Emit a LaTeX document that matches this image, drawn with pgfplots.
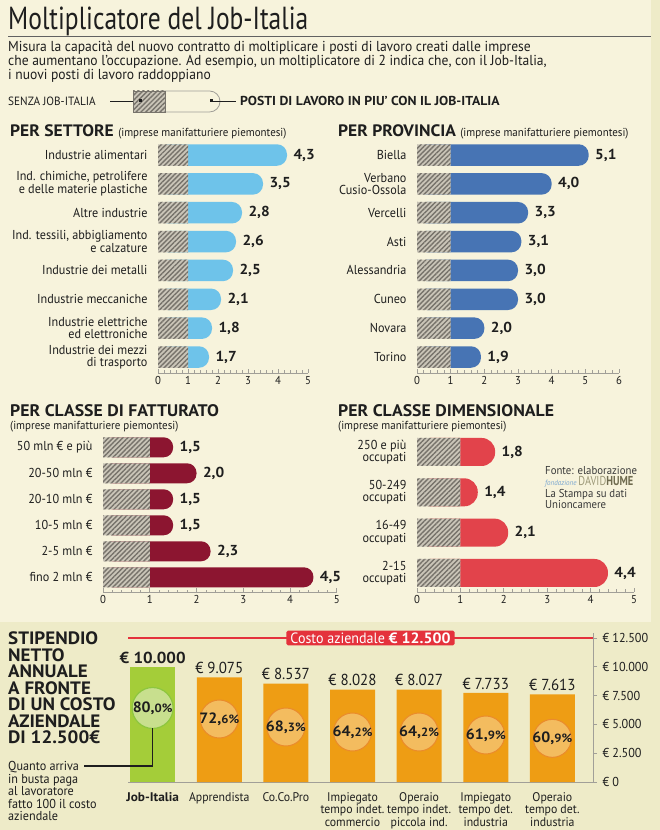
\documentclass[border=0pt]{standalone}
\usepackage{fontspec}
\setmainfont{PT Sans}[FakeStretch=0.94]
\newfontfamily\titlefont{PT Sans}[FakeStretch=0.8]
\newfontfamily\headfont{PT Sans}[FakeStretch=1.06]
\usepackage{pgfplots}
\pgfplotsset{compat=1.18}
\usetikzlibrary{patterns.meta}

\definecolor{bgtop}{HTML}{F7F3DC}
\definecolor{bgbot}{HTML}{EEEBC8}
\definecolor{txt}{HTML}{1E1E1E}
\definecolor{axisgrey}{HTML}{A19F98}
\definecolor{hatchbg}{HTML}{CAC5B8}
\definecolor{hatchline}{HTML}{77736B}
\definecolor{lightblue}{HTML}{6EC3EA}
\definecolor{midblue}{HTML}{4774B4}
\definecolor{darkred}{HTML}{8C1530}
\definecolor{brightred}{HTML}{E2434B}
\definecolor{greenbar}{HTML}{A4CD39}
\definecolor{greencirc}{HTML}{C8DF8E}
\definecolor{greenstroke}{HTML}{8DC63F}
\definecolor{orangebar}{HTML}{EE9D14}
\definecolor{orangecirc}{HTML}{F3BC5F}
\definecolor{orangestroke}{HTML}{EA8B2C}
\definecolor{costred}{HTML}{E4323C}
\definecolor{srcgrey}{HTML}{3A3A3A}
\definecolor{humeblue}{HTML}{7BA7D0}
\definecolor{humegrey}{HTML}{9C9878}
\definecolor{humedark}{HTML}{6F6B4F}

\newcommand\fs[2]{\fontsize{#1}{#2}\selectfont}
\newcommand\pct[2]{{\headfont\bfseries\fs{15}{15}#1,\fs{12}{12}#2\%}}

\tikzset{hatch/.style={fill=hatchbg,
  postaction={pattern={Lines[angle=45,distance=3.4bp,line width=1.4bp]}, pattern color=hatchline}}}

\pgfplotsset{
  hbar/.style={scale only axis, anchor=south west, xbar, bar shift=0pt, clip=false,
    /pgf/number format/assume math mode=true,
    axis x line=bottom, axis y line=left,
    x axis line style={-, draw=axisgrey, line width=0.9bp},
    y axis line style={draw=none},
    xtick distance=1, minor x tick num=4, tick align=inside,
    xtick style={draw=axisgrey, line width=0.7bp},
    major tick length=4bp, minor tick length=2.5bp,
    ytick style={draw=none},
    xticklabel style={font=\fs{11.5}{11.5}, text=txt},
    yticklabel style={font=\fs{13}{12.5}, align=right, text=txt, xshift=-7bp}},
  valbar/.style={fill=#1, draw=none, rounded corners=10bp, point meta=x,
    nodes near coords={\pgfmathprintnumber[assume math mode=true,use comma,fixed,fixed zerofill,precision=1]{\pgfplotspointmeta}},
    nodes near coords style={font=\headfont\bfseries\fs{14.5}{14.5}, text=txt, xshift=3bp}},
  hatbar/.style={hatch, draw=none},
}

\begin{document}
\begin{tikzpicture}[x=1bp,y=1bp]
\fill[bgbot] (0,0) rectangle (660,830);
\fill[bgtop] (0,830-622) rectangle (651,830);

\coordinate (p1) at (158,457);
\coordinate (p2) at (417,457);
\coordinate (p3) at (103,237.7);
\coordinate (p4) at (417,238);
\coordinate (p5) at (128,48);

% title and intro
\node[anchor=base west, inner sep=0, text=txt] at (8,830-30) {\titlefont\fs{32}{32}Moltiplicatore del Job-Italia};
\draw[txt!70, line width=0.8bp] (8,830-36) -- (651,830-36);
\node[anchor=north west, inner sep=0, align=left, text=txt, font=\fs{14.5}{14}] at (8,830-41)
  {Misura la capacità del nuovo contratto di moltiplicare i posti di lavoro creati dalle imprese\\
che aumentano l'occupazione. Ad esempio, un moltiplicatore di 2 indica che, con il Job-Italia,\\
i nuovi posti di lavoro raddoppiano};

% key
\node[anchor=west, inner sep=0, text=txt] at (8,830-101) {\fs{12}{12}SENZA JOB-ITALIA};
\draw[txt, line width=0.8bp] (110,830-101) -- (140,830-101);
\draw[axisgrey, fill=bgtop, line width=0.8bp] (160,830-91) -- (209.5,830-91) arc[start angle=90, end angle=-90, radius=10.5] -- (160,830-112);
\path[hatch, draw=hatchline, line width=0.6bp] (133,830-112) rectangle (165,830-91);
\fill[txt] (138.5,830-102.5) rectangle +(3,3);
\fill[txt] (209.5,830-102.5) rectangle +(3,3);
\draw[txt, line width=0.8bp] (211,830-101) -- (236,830-101);
\node[anchor=west, inner sep=0, text=txt] at (240,830-101) {\headfont\bfseries\fs{13}{13}POSTI DI LAVORO IN PIU’ CON IL JOB-ITALIA};

% panel titles
\node[anchor=base west, inner sep=0, text=txt] at (10,830-136.7) {\headfont\bfseries\fs{16.6}{16.6}PER SETTORE\ \fs{11.7}{11.7}\normalfont(imprese manifatturiere piemontesi)};
\node[anchor=base west, inner sep=0, text=txt] at (338,830-136.7) {\headfont\bfseries\fs{16.6}{16.6}PER PROVINCIA\ \fs{11.7}{11.7}\normalfont(imprese manifatturiere piemontesi)};
\node[anchor=base west, inner sep=0, text=txt] at (10,830-416.7) {\headfont\bfseries\fs{16.8}{16.8}PER CLASSE DI FATTURATO};
\node[anchor=base west, inner sep=0, text=txt] at (10,830-430) {\fs{11.7}{11.7}(imprese manifatturiere piemontesi)};
\node[anchor=base west, inner sep=0, text=txt] at (338,830-416.7) {\headfont\bfseries\fs{16.8}{16.8}PER CLASSE DIMENSIONALE};
\node[anchor=base west, inner sep=0, text=txt] at (338,830-430) {\fs{11.7}{11.7}(imprese manifatturiere piemontesi)};

% PER SETTORE
\begin{axis}[hbar, at={(p1)}, width=150bp, height=232.4bp,
  xmin=0, xmax=5, ymin=-0.554, ymax=7.5, bar width=21.5bp, ytick={0,...,7},
  yticklabels={{Industrie dei mezzi\\di trasporto},{Industrie elettriche\\ed elettroniche},
    Industrie meccaniche,Industrie dei metalli,{Ind. tessili, abbigliamento\\e calzature},
    Altre industrie,{Ind. chimiche, petrolifere\\e delle materie plastiche},Industrie alimentari}]
\addplot[valbar=lightblue] coordinates {(1.7,0) (1.8,1) (2.1,2) (2.5,3) (2.6,4) (2.8,5) (3.5,6) (4.3,7)};
\addplot[hatbar] coordinates {(1,0) (1,1) (1,2) (1,3) (1,4) (1,5) (1,6) (1,7)};
\end{axis}

% PER PROVINCIA
\begin{axis}[hbar, at={(p2)}, width=202bp, height=232.4bp,
  xmin=0, xmax=6, ymin=-0.554, ymax=7.5, bar width=21.5bp, ytick={0,...,7},
  yticklabels={Torino,Novara,Cuneo,Alessandria,Asti,Vercelli,{Verbano\\Cusio-Ossola},Biella}]
\addplot[valbar=midblue] coordinates {(1.9,0) (2.0,1) (3.0,2) (3.0,3) (3.1,4) (3.3,5) (4.0,6) (5.1,7)};
\addplot[hatbar] coordinates {(1,0) (1,1) (1,2) (1,3) (1,4) (1,5) (1,6) (1,7)};
\end{axis}

% PER CLASSE DI FATTURATO
\begin{axis}[hbar, at={(p3)}, width=233.8bp, height=158bp,
  xmin=0, xmax=5, ymin=-0.577, ymax=5.5, bar width=20bp, ytick={0,...,5},
  yticklabels={fino 2 mln €,2-5 mln €,10-5 mln €,20-10 mln €,20-50 mln €,50 mln € e più}]
\addplot[valbar=darkred, rounded corners=9.5bp] coordinates {(4.5,0) (2.3,1) (1.5,2) (1.5,3) (2.0,4) (1.5,5)};
\addplot[hatbar] coordinates {(1,0) (1,1) (1,2) (1,3) (1,4) (1,5)};
\end{axis}

% PER CLASSE DIMENSIONALE
\begin{axis}[hbar, at={(p4)}, width=217bp, height=160.2bp,
  xmin=0, xmax=5, ymin=-0.471, ymax=3.5, bar width=28bp, ytick={0,...,3},
  yticklabels={{2-15\\occupati},{16-49\\occupati},{50-249\\occupati},{250 e più\\occupati}}]
\addplot[valbar=brightred, rounded corners=13.5bp] coordinates {(4.4,0) (2.1,1) (1.4,2) (1.8,3)};
\addplot[hatbar] coordinates {(1,0) (1,1) (1,2) (1,3)};
\end{axis}

% source
\node[anchor=north west, inner sep=0, align=left, text=srcgrey, font=\fs{11.5}{11.5}] at (545,830-466) {Fonte: elaborazione\\
{\itshape\fs{7.5}{7.5}\color{humeblue}fondazione}\,{\titlefont\fs{13}{11.5}\color{humegrey}DAVID\textcolor{humedark}{\bfseries HUME}}\\
La Stampa su dati\\Unioncamere};

% bottom section
\node[anchor=north west, inner sep=0, align=left, text=txt, font=\headfont\bfseries\fs{18}{16.6}] at (8,830-631.5)
  {STIPENDIO\\NETTO\\ANNUALE\\A FRONTE\\DI UN COSTO\\AZIENDALE\\DI 12.500€};
\node[anchor=north west, inner sep=0, align=left, text=txt, font=\fs{13}{12.5}] at (8,830-761.5)
  {Quanto arriva\\in busta paga\\al lavoratore\\fatto 100 il costo\\aziendale};

\begin{axis}[scale only axis, at={(p5)}, anchor=south west, width=465bp, height=148.6bp,
  xmin=-0.37, xmax=6.61, ymin=0, ymax=12900, clip=false,
  bar shift=0pt, bar width=45bp, scaled y ticks=false,
  axis x line=bottom, axis y line=right,
  x axis line style={-, draw=axisgrey, line width=1bp},
  y axis line style={-, draw=axisgrey, line width=1bp},
  xtick={0,...,6}, xtick style={draw=none},
  xticklabels={{\headfont\bfseries Job-Italia},Apprendista,Co.Co.Pro,{Impiegato\\tempo indet.\\commercio},
    {Operaio\\tempo indet.\\piccola ind.},{Impiegato\\tempo det.\\industria},{Operaio\\tempo det.\\industria}},
  xticklabel style={font=\fs{12.6}{12.5}, align=center, text=txt, anchor=north, yshift=-3bp},
  ytick={0,2500,5000,7500,10000,12500},
  yticklabels={€ 0,€ 2.500,€ 5.000,€ 7.500,€ 10.000,€ 12.500},
  yticklabel style={font=\fs{13}{13}, text=txt, xshift=2bp},
  ytick style={draw=axisgrey, line width=0.8bp}, tick align=outside, major tick length=4bp]
\addplot[costred, line width=1.6bp, no marks] coordinates {(-0.37,12500) (6.61,12500)};
\addplot[ybar, fill=greenbar, draw=none, point meta=explicit symbolic, nodes near coords,
  nodes near coords style={font=\headfont\bfseries\fs{16}{16}, text=txt}]
  coordinates {(0,10000) [€ 10.000]};
\addplot[ybar, fill=orangebar, draw=none, point meta=explicit symbolic, nodes near coords,
  nodes near coords style={font=\fs{16}{16}, text=txt}]
  coordinates {(1,9075) [€ 9.075] (2,8537) [€ 8.537] (3,8028) [€ 8.028] (4,8027) [€ 8.027] (5,7733) [€ 7.733] (6,7613) [€ 7.613]};
\addplot[only marks, mark=*, mark size=20.5bp, mark options={fill=greencirc, draw=greenstroke, line width=1.2bp}]
  coordinates {(0,6424)};
\addplot[only marks, mark=*, mark size=19bp, mark options={fill=orangecirc, draw=orangestroke, line width=1bp}]
  coordinates {(1,5469) (2,4774) (3,4340) (4,4340) (5,4080) (6,3790)};
\coordinate (c0) at (axis cs:0,6424);
\coordinate (c1) at (axis cs:1,5469);
\coordinate (c2) at (axis cs:2,4774);
\coordinate (c3) at (axis cs:3,4340);
\coordinate (c4) at (axis cs:4,4340);
\coordinate (c5) at (axis cs:5,4080);
\coordinate (c6) at (axis cs:6,3790);
\coordinate (lab) at (axis cs:3.27,12500);
\end{axis}

\node[text=txt] at (c0) {\pct{80}{0}};
\node[text=txt] at (c1) {\pct{72}{6}};
\node[text=txt] at (c2) {\pct{68}{3}};
\node[text=txt] at (c3) {\pct{64}{2}};
\node[text=txt] at (c4) {\pct{64}{2}};
\node[text=txt] at (c5) {\pct{61}{9}};
\node[text=txt] at (c6) {\pct{60}{9}};
\node[fill=costred, text=white, inner xsep=4bp, inner ysep=2bp, rounded corners=1.5bp] at (lab)
  {\fs{15}{15}Costo aziendale \headfont\bfseries € 12.500};
\draw[txt, line width=1.5bp] (84,830-766) -| ([yshift=-20.5bp]c0);

\pgfresetboundingbox
\path[use as bounding box] (0,0) rectangle (660,830);
\end{tikzpicture}
\end{document}
